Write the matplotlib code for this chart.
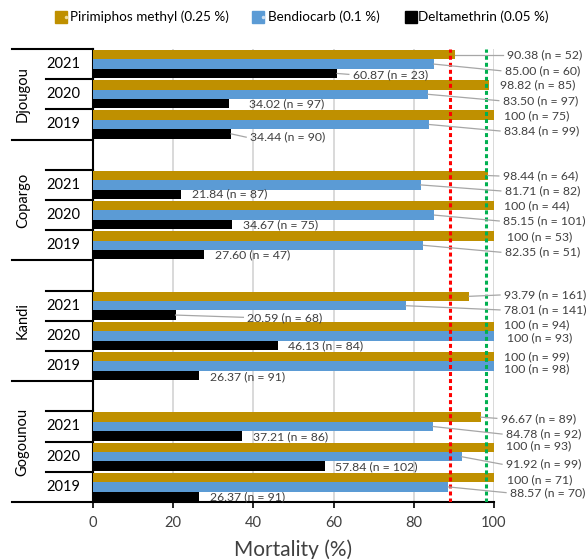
import matplotlib
matplotlib.use("Agg")
import matplotlib.pyplot as plt
from matplotlib.lines import Line2D
from matplotlib.legend_handler import HandlerTuple
import matplotlib.transforms as mtransforms

plt.rcParams['font.family'] = ['Lato', 'DejaVu Sans']

# ---- data ----
sites = ["Djougou", "Copargo", "Kandi", "Gogounou"]
years = ["2021", "2020", "2019"]
insecticides = ["Pirimiphos methyl (0.25 %)", "Bendiocarb (0.1 %)", "Deltamethrin (0.05 %)"]

pirimiphos = [[90.38, 98.82, 100], [98.44, 100, 100], [93.79, 100, 100], [96.67, 100, 100]]
pirimiphos_n = [[52, 85, 75], [64, 44, 53], [161, 94, 99], [89, 93, 71]]
bendiocarb = [[85.00, 83.50, 83.84], [81.71, 85.15, 82.35], [78.01, 100, 100], [84.78, 91.92, 88.57]]
bendiocarb_n = [[60, 97, 99], [82, 101, 51], [141, 93, 98], [92, 99, 70]]
deltamethrin = [[60.87, 34.02, 34.44], [21.84, 34.67, 27.60], [20.59, 46.13, 26.37], [37.21, 57.84, 26.37]]
deltamethrin_n = [[23, 97, 90], [87, 75, 47], [68, 84, 91], [86, 102, 91]]

thresholds = [89, 98]

# ---- styling / layout ----
colors = ["#BF9000", "#5B9BD5", "#000000"]
threshold_colors = ["#FF0000", "#00B050"]
bar_h = 0.31

# label anchors: (text left x in data units, vertical offset from bar centre in rows, leader line)
label_pos = [
    # Djougou
    [[(103.3, 0.0, True), (102.7, 0.22, True), (64.8, 0.03, True)],
     [(101.5, 0.0, False), (102.2, 0.21, True), (39.0, 0.0, False)],
     [(102.5, 0.03, False), (102.5, 0.215, True), (39.2, 0.11, True)]],
    # Copargo
    [[(102.2, 0.015, True), (102.7, 0.20, True), (24.7, 0.0, False)],
     [(102.6, 0.0, False), (102.3, 0.195, True), (37.3, 0.0, False)],
     [(103.3, 0.025, False), (102.7, 0.23, True), (30.4, 0.01, False)]],
    # Kandi
    [[(102.5, -0.045, True), (102.5, 0.14, True), (38.5, 0.075, True)],
     [(102.5, -0.05, False), (103.3, 0.05, False), (48.6, 0.02, False)],
     [(102.5, 0.0, False), (102.5, 0.10, False), (29.2, 0.04, False)]],
    # Gogounou
    [[(101.7, 0.04, True), (103.0, 0.25, True), (39.8, 0.03, False)],
     [(103.0, -0.055, False), (103.0, 0.25, True), (60.3, 0.02, False)],
     [(103.3, 0.08, False), (104.0, 0.19, True), (29.2, 0.015, False)]],
]

fig = plt.figure(figsize=(5.87, 5.59), dpi=100)
ax = fig.add_axes([93 / 587, 57 / 559, 401 / 587, 453 / 559])

# row index of each site/year (a blank row separates the sites)
site_start = [0, 4, 8, 12]
n_rows = 15

series = [(pirimiphos, pirimiphos_n), (bendiocarb, bendiocarb_n), (deltamethrin, deltamethrin_n)]

def fmt(v):
    return "100" if v == 100 else f"{v:.2f}"

for si, site in enumerate(sites):
    for yi, yr in enumerate(years):
        row = site_start[si] + yi + 0.5
        for k, (vals, ns) in enumerate(series):
            v = vals[si][yi]
            yc = row + (k - 1) * bar_h
            ax.barh(yc, v, height=bar_h, color=colors[k], zorder=3, linewidth=0)
            lx, dy, leader = label_pos[si][yi][k]
            ly = yc + dy
            ax.text(lx, ly, f"{fmt(v)} (n = {ns[si][yi]})", ha="left", va="center",
                    fontsize=8.85, color="#404040", zorder=6, clip_on=False)
            if leader:
                ax.plot([v, lx - 1.0], [yc, ly], color="#A6A6A6", lw=0.9,
                        zorder=5, clip_on=False)

for t, c in zip(thresholds, threshold_colors):
    ax.axvline(t, color=c, lw=2.2, linestyle=(0, (1.3, 1.0)), zorder=4)

ax.set_xlim(0, 100)
ax.set_ylim(n_rows, 0)
ax.set_xticks([0, 20, 40, 60, 80, 100])
ax.tick_params(axis="x", labelsize=10.5, labelcolor="#404040", color="black", length=4,
               width=1.2, direction="out", pad=6)
ax.set_yticks([])
ax.grid(axis="x", color="#D9D9D9", lw=1.4, zorder=0)
ax.set_axisbelow(True)
for s in ["top", "right"]:
    ax.spines[s].set_visible(False)
for s in ["left", "bottom"]:
    ax.spines[s].set_linewidth(1.5)
    ax.spines[s].set_color("black")

ax.set_xlabel("Mortality (%)", fontsize=15, color="#404040", labelpad=7)

# multi-level category axis on the left
trans = mtransforms.blended_transform_factory(ax.transAxes, ax.transData)
long_x, short_x = -0.202, -0.117
group_edges = [0, 3, 7, 11, 15]
for e in group_edges:
    ax.plot([long_x, 0], [e, e], color="black", lw=1.5, transform=trans, clip_on=False)
for si in range(len(sites)):
    for yi in range(len(years)):
        r = site_start[si] + yi
        if r not in group_edges:
            ax.plot([short_x, 0], [r, r], color="black", lw=1.5, transform=trans, clip_on=False)
        ax.text(-0.075, r + 0.5, years[yi], transform=trans, ha="center", va="center",
                fontsize=10.5, color="black")
    centre = (group_edges[si] + group_edges[si + 1]) / 2
    ax.text(-0.175, centre, sites[si], transform=trans, ha="center", va="center",
            rotation=90, fontsize=10.5, color="black")

# legend
dot_colors = ["#F0DFA0", "#CFE0F2", None]
handles = []
for c, dc in zip(colors, dot_colors):
    sq = Line2D([], [], marker="s", ms=8.5, color=c, ls="")
    if dc:
        handles.append((sq, Line2D([], [], marker="o", ms=1.5, color=dc, ls="")))
    else:
        handles.append((sq,))
fig.legend(handles, insecticides, loc="center", bbox_to_anchor=(0.517, 1 - 17 / 559),
           ncol=3, frameon=False, fontsize=9.7, handlelength=0.7, handletextpad=0.15,
           columnspacing=2.0, handler_map={tuple: HandlerTuple(ndivide=None, pad=0)})

fig.savefig("out.png", dpi=100)
